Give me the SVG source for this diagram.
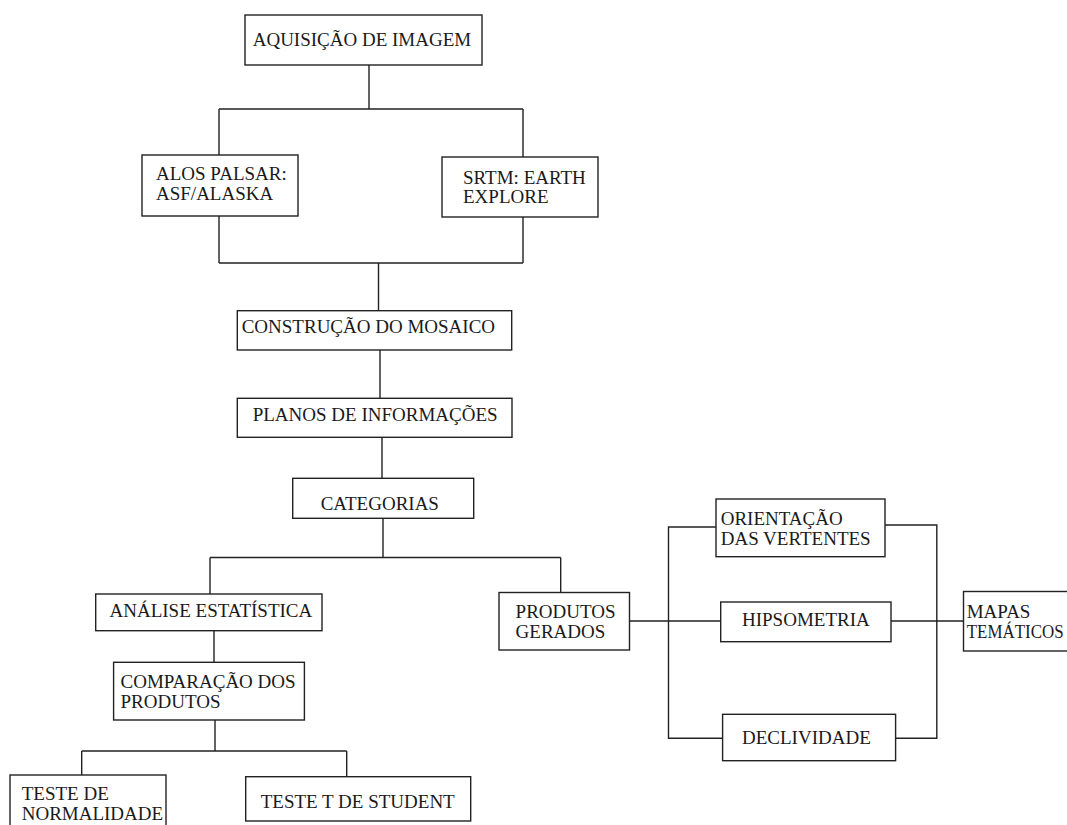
<svg xmlns="http://www.w3.org/2000/svg" width="1067" height="825" viewBox="0 0 1067 825">
<style>
.box{fill:#fff;stroke:#222;stroke-width:1.4}
.t{font-family:"Liberation Serif","Times New Roman",serif;font-size:19px;fill:#1a1a1a}
.c{fill:none;stroke:#222;stroke-width:1.4}
</style>
<rect width="1067" height="825" fill="#fff"/>
<g id="connectors">
<path class="c" d="M369,65V109M219,109H523M219,109V155M523,109V157"/>
<path class="c" d="M219,216V263M523,217V263M219,263H523M378.5,263V310.7"/>
<path class="c" d="M380,350V398.3M382,437.3V478.3M383,518.3V557.5"/>
<path class="c" d="M210,557.5H560.7M210,557.5V594M560.7,557.5V592.5"/>
<path class="c" d="M214,630.7V662.3M215,720V751M81.7,751H346.7M81.7,751V775M346.7,751V776.7"/>
<path class="c" d="M629.5,621H720.7M716,527H668.5V738.3H722.6M885,525H936.8V738.3H895.6M891,621H963.5"/>
</g>
<g id="aquisicao"><rect class="box" x="245" y="15" width="237" height="50"/><text class="t" x="252.7" y="46">AQUISIÇÃO DE IMAGEM</text></g>
<g id="alos"><rect class="box" x="142" y="155" width="156" height="61"/><text class="t" x="156" y="180">ALOS PALSAR:</text><text class="t" x="156" y="200">ASF/ALASKA</text></g>
<g id="srtm"><rect class="box" x="442" y="157" width="156" height="60"/><text class="t" x="463" y="183.5">SRTM: EARTH</text><text class="t" x="463" y="203">EXPLORE</text></g>
<g id="mosaico"><rect class="box" x="237.3" y="310.7" width="274.4" height="39.3"/><text class="t" x="241.7" y="332.7">CONSTRUÇÃO DO MOSAICO</text></g>
<g id="planos"><rect class="box" x="237.3" y="398.3" width="274.7" height="39"/><text class="t" x="252.7" y="420.7">PLANOS DE INFORMAÇÕES</text></g>
<g id="categorias"><rect class="box" x="292.7" y="478.3" width="181" height="40"/><text class="t" x="320.7" y="510">CATEGORIAS</text></g>
<g id="analise"><rect class="box" x="95.7" y="594" width="226.3" height="36.7"/><text class="t" x="109.5" y="617.3">ANÁLISE ESTATÍSTICA</text></g>
<g id="comparacao"><rect class="box" x="113.6" y="662.3" width="190.8" height="57.7"/><text class="t" x="120.5" y="688.3">COMPARAÇÃO DOS</text><text class="t" x="120.5" y="708.3">PRODUTOS</text></g>
<g id="normalidade"><rect class="box" x="10" y="775" width="156" height="60"/><text class="t" x="21.7" y="800">TESTE DE</text><text class="t" x="21.7" y="820">NORMALIDADE</text></g>
<g id="student"><rect class="box" x="245.7" y="776.7" width="225" height="44.3"/><text class="t" x="260.7" y="808">TESTE T DE STUDENT</text></g>
<g id="produtos"><rect class="box" x="499" y="592.5" width="130.5" height="57.5"/><text class="t" x="515.6" y="617.5">PRODUTOS</text><text class="t" x="515.6" y="637.8">GERADOS</text></g>
<g id="orientacao"><rect class="box" x="716" y="499" width="169" height="57.7"/><text class="t" x="720.7" y="525">ORIENTAÇÃO</text><text class="t" x="720.7" y="545">DAS VERTENTES</text></g>
<g id="hipsometria"><rect class="box" x="720.7" y="602" width="170.3" height="39.7"/><text class="t" x="742" y="625.7">HIPSOMETRIA</text></g>
<g id="declividade"><rect class="box" x="722.6" y="714.3" width="173" height="46.4"/><text class="t" x="742" y="744">DECLIVIDADE</text></g>
<g id="mapas"><rect class="box" x="963.5" y="591.5" width="120" height="59.5"/><text class="t" x="966.7" y="618">MAPAS</text><text class="t" x="966.7" y="638" textLength="97" lengthAdjust="spacingAndGlyphs">TEMÁTICOS</text></g>
</svg>
